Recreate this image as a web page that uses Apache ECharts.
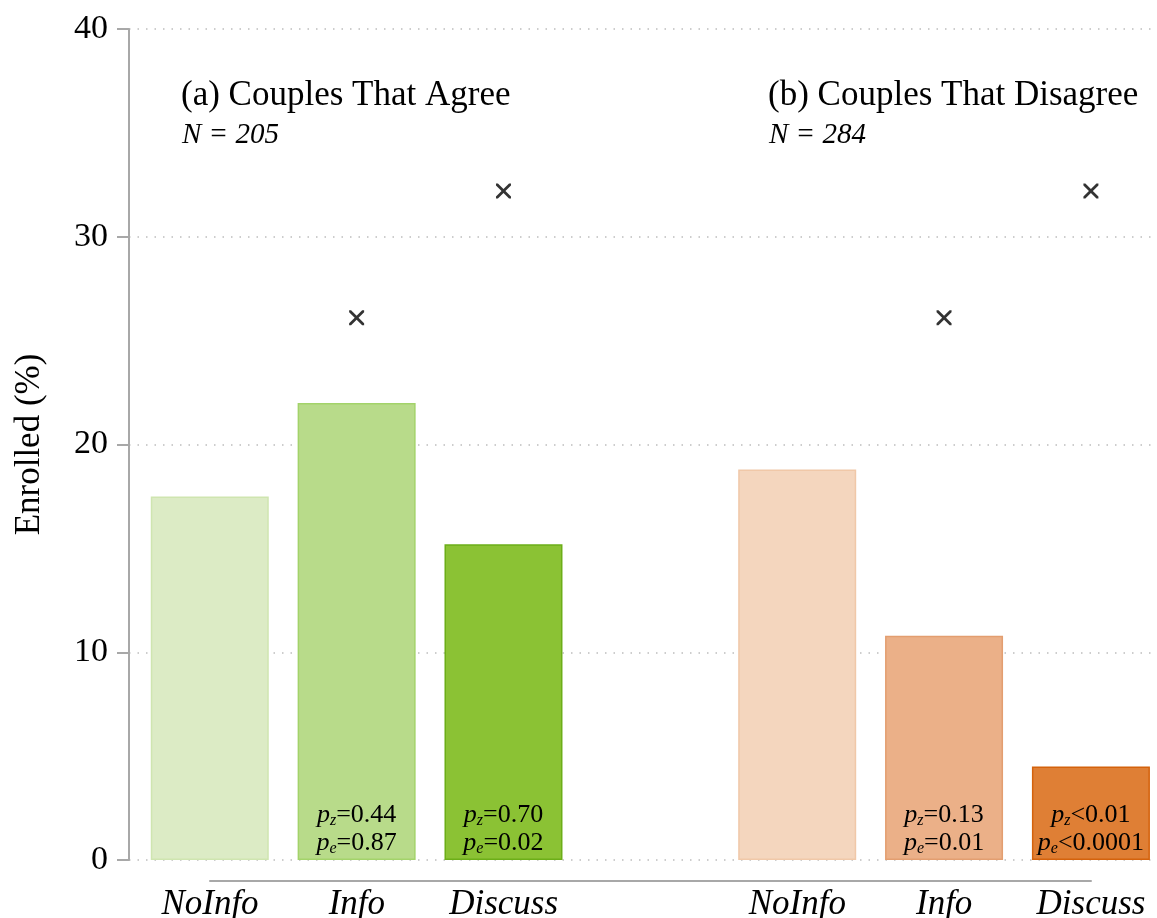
<!DOCTYPE html>
<html>
<head>
<meta charset="utf-8">
<script src="https://cdn.jsdelivr.net/npm/echarts@6/dist/echarts.min.js"></script>
<style>html,body{margin:0;padding:0;background:#fff}#c{width:1157px;height:918px}</style>
</head>
<body>
<div id="c"></div>
<script>
// ---- data ----
const categories = ['NoInfo', 'Info', 'Discuss'];
const agreeValues = [17.5, 22.0, 15.2];
const disagreeValues = [18.8, 10.8, 4.5];
const agreeMarkers = [null, 26.1, 32.2];
const disagreeMarkers = [null, 26.1, 32.2];
const agreePz = [null, '=0.44', '=0.70'];
const agreePe = [null, '=0.87', '=0.02'];
const disagreePz = [null, '=0.13', '<0.01'];
const disagreePe = [null, '=0.01', '<0.0001'];
const yTicks = [0, 10, 20, 30, 40];
const panelTitles = ['(a) Couples That Agree', '(b) Couples That Disagree'];
const panelN = ['N = 205', 'N = 284'];

// ---- styles ----
const FONT = '"Liberation Serif", "Times New Roman", serif';
const agreeFill = ['#dcebc5', '#b8db8a', '#8bc234'];
const agreeBorder = ['#cfe5b0', '#a3d36a', '#6cae18'];
const disFill = ['#f4d6be', '#ebb088', '#df7f35'];
const disBorder = ['#f0c8a8', '#e39e70', '#d4620c'];

const chart = echarts.init(document.getElementById('c'));

function barItems(values, offset, fills, borders, pz, pe) {
  return values.map((v, i) => {
    const item = {
      value: [i + offset, v],
      itemStyle: { color: fills[i], borderColor: borders[i], borderWidth: 1.5 }
    };
    if (pz[i]) {
      item.label = {
        show: true,
        position: 'insideBottom',
        distance: 3,
        formatter: '{p|p}{s|z}{t|' + pz[i] + '}\n{p|p}{s|e}{t|' + pe[i] + '}'
      };
    }
    return item;
  });
}
function markerItems(values, offset) {
  const out = [];
  values.forEach((v, i) => { if (v != null) out.push([i + offset, v]); });
  return out;
}

const xLabels = categories.concat(['']).concat(categories);
const X_PATH = 'path://M0,0 L2.6,0 L10,7.4 L17.4,0 L20,0 L20,2.6 L12.6,10 L20,17.4 L20,20 L17.4,20 L10,12.6 L2.6,20 L0,20 L0,17.4 L7.4,10 L0,2.6 Z';

const option = {
  backgroundColor: '#fff',
  animation: false,
  textStyle: { fontFamily: FONT },
  grid: [
    { left: 129, right: 0, top: 29, bottom: 58, containLabel: false, outerBoundsMode: 'none' },
    { left: 210, right: 66, top: 29, bottom: 58, containLabel: false, outerBoundsMode: 'none' }
  ],
  title: [
    { text: panelTitles[0], left: 176, top: 73, textStyle: { fontFamily: FONT, fontSize: 35, fontWeight: 'normal', color: '#000' } },
    { text: panelN[0], left: 177, top: 116, textStyle: { fontFamily: FONT, fontSize: 29, fontStyle: 'italic', fontWeight: 'normal', color: '#000' } },
    { text: panelTitles[1], left: 763, top: 73, textStyle: { fontFamily: FONT, fontSize: 35, fontWeight: 'normal', color: '#000' } },
    { text: panelN[1], left: 764, top: 116, textStyle: { fontFamily: FONT, fontSize: 29, fontStyle: 'italic', fontWeight: 'normal', color: '#000' } }
  ],
  xAxis: [
    {
      gridIndex: 0, type: 'value', min: 0.45, max: 7.45,
      axisLine: { show: false }, axisTick: { show: false }, axisLabel: { show: false }, splitLine: { show: false }
    },
    {
      gridIndex: 1, type: 'category', data: xLabels, boundaryGap: false, offset: 21,
      axisLine: { show: true, onZero: false, lineStyle: { color: '#a8a8a8', width: 2 } },
      axisTick: { show: false },
      axisLabel: { fontFamily: FONT, fontSize: 35, fontStyle: 'italic', color: '#000', margin: 6, interval: 0 },
      splitLine: { show: false }
    }
  ],
  yAxis: [
    {
      gridIndex: 0, type: 'value', min: yTicks[0], max: yTicks[yTicks.length - 1], interval: 10,
      name: 'Enrolled (%)', nameLocation: 'middle', nameGap: 82,
      nameTextStyle: { fontFamily: FONT, fontSize: 35, color: '#000' },
      axisLine: { show: true, lineStyle: { color: '#a8a8a8', width: 2 } },
      axisTick: { show: true, length: 12, lineStyle: { color: '#a8a8a8', width: 2 } },
      axisLabel: { fontFamily: FONT, fontSize: 34, color: '#000', margin: 21, padding: [12, 0, 0, 0] },
      splitLine: { show: true, lineStyle: { color: '#bdbdbd', width: 1.5, type: [1.5, 7] } }
    },
    {
      gridIndex: 1, type: 'value', min: 0, max: 40, show: false
    }
  ],
  series: [
    {
      type: 'bar', xAxisIndex: 0, yAxisIndex: 0, barWidth: 118, z: 3,
      data: barItems(agreeValues, 1, agreeFill, agreeBorder, agreePz, agreePe)
        .concat(barItems(disagreeValues, 5, disFill, disBorder, disagreePz, disagreePe)),
      label: {
        rich: {
          p: { fontFamily: FONT, fontSize: 26, fontStyle: 'italic', color: '#000', lineHeight: 28 },
          s: { fontFamily: FONT, fontSize: 16, fontStyle: 'italic', color: '#000', lineHeight: 28, verticalAlign: 'bottom', padding: [8, 0, 0, 0] },
          t: { fontFamily: FONT, fontSize: 26, color: '#000', lineHeight: 28 }
        }
      }
    },
    {
      type: 'scatter', xAxisIndex: 0, yAxisIndex: 0, z: 5,
      symbol: X_PATH, symbolSize: 15,
      itemStyle: { color: '#000' },
      data: markerItems(agreeMarkers, 1).concat(markerItems(disagreeMarkers, 5))
    }
  ]
};
chart.setOption(option);
</script>
</body>
</html>
